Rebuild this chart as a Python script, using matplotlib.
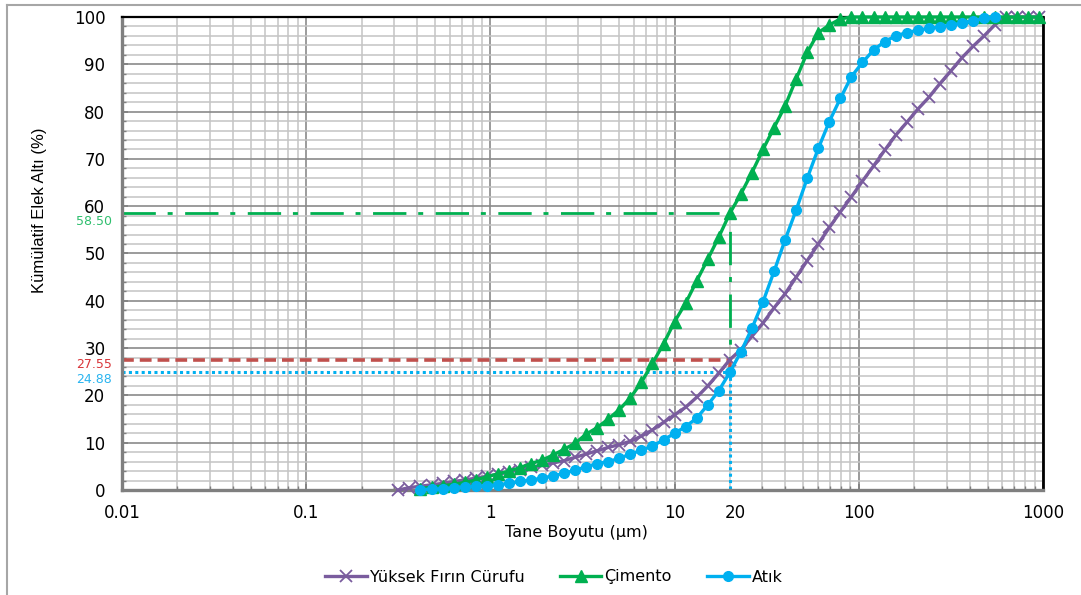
import numpy as np
import matplotlib
matplotlib.use("Agg")
import matplotlib.pyplot as plt
from matplotlib.ticker import FixedLocator, MultipleLocator, NullFormatter
from matplotlib.lines import Line2D

plt.rcParams['font.family'] = ['DejaVu Sans']
plt.rcParams['lines.scale_dashes'] = False

# particle size bins (um)
sizes = [0.316, 0.363, 0.417, 0.479, 0.550, 0.631, 0.724, 0.832, 0.955, 1.096,
         1.259, 1.445, 1.660, 1.905, 2.188, 2.512, 2.884, 3.311, 3.802, 4.365,
         5.012, 5.754, 6.607, 7.586, 8.710, 10.00, 11.48, 13.18, 15.14, 17.38,
         19.95, 22.91, 26.30, 30.20, 34.67, 39.81, 45.71, 52.48, 60.26, 69.18,
         79.43, 91.20, 104.7, 120.2, 138.0, 158.5, 182.0, 208.9, 239.9, 275.4,
         316.2, 363.1, 416.9, 478.6, 549.5, 631.0, 724.4, 831.8, 955.0]

# Yuksek Firin Curufu (from first bin)
curuf = [0.0, 0.5, 0.8, 1.1, 1.4, 1.8, 2.1, 2.5, 2.9, 3.3,
         3.8, 4.3, 4.8, 5.2, 5.7, 6.2, 6.9, 7.6, 8.3, 9.0,
         9.6, 10.3, 11.4, 12.7, 14.3, 15.9, 17.5, 19.6, 22.0, 24.7,
         27.55, 29.7, 32.5, 35.3, 38.5, 41.5, 45.0, 48.5, 52.0, 55.5,
         58.8, 62.0, 65.3, 68.5, 71.8, 75.0, 77.7, 80.5, 83.0, 85.9,
         88.6, 91.4, 93.8, 96.0, 98.4, 100, 100, 100, 100]

# Cimento (from third bin)
cimento = [0.3, 0.6, 0.9, 1.2, 1.6, 2.1, 2.8, 3.4,
           4.0, 4.7, 5.6, 6.3, 7.4, 8.6, 9.9, 11.8, 13.2, 15.0,
           17.0, 19.5, 22.8, 26.8, 30.9, 35.6, 39.5, 44.2, 48.8, 53.5,
           58.5, 62.6, 67.1, 72.0, 76.6, 81.2, 86.9, 92.5, 96.7, 98.3,
           99.6, 100, 100, 100, 100, 100, 100, 100, 100, 100,
           100, 100, 100, 100, 100, 100, 100, 100, 100]

# Atik (from third bin up to 549.5 um)
atik = [0.1, 0.15, 0.3, 0.45, 0.6, 0.75, 0.9, 1.1,
        1.4, 1.8, 2.1, 2.5, 3.0, 3.5, 4.2, 4.9, 5.6, 6.0,
        6.7, 7.6, 8.4, 9.3, 10.6, 12.0, 13.4, 15.2, 18.0, 21.0,
        24.88, 29.2, 34.2, 39.8, 46.2, 52.9, 59.2, 65.9, 72.2, 77.9,
        82.8, 87.4, 90.4, 93.0, 94.8, 96.0, 96.7, 97.2, 97.6, 97.9,
        98.3, 98.7, 99.2, 99.7, 100]

d_ref = 20
ref_vals = [58.50, 27.55, 24.88]
ref_labels = ['58.50', '27.55', '24.88']

purple = '#7a5c9e'
green = '#00b050'
blue = '#00b0f0'
red = '#c0504d'

fig = plt.figure(figsize=(10.81, 5.95), dpi=100)
ax = fig.add_axes([122/1081, 1-490/595, (1043-122)/1081, (490-17)/595])

ax.set_xscale('log')
ax.set_xlim(0.01, 1000)
ax.set_ylim(0, 100)

ax.xaxis.set_major_locator(FixedLocator([0.01, 0.1, 1, 10, 100, 1000]))
ax.set_xticklabels(['0.01', '0.1', '1', '10', '100', '1000'])
minor_x = [m * 10.0**e for e in range(-2, 3) for m in range(2, 10)]
ax.xaxis.set_minor_locator(FixedLocator(minor_x))
ax.xaxis.set_minor_formatter(NullFormatter())
ax.yaxis.set_major_locator(MultipleLocator(10))
ax.yaxis.set_minor_locator(MultipleLocator(2))

ax.grid(which='major', color='#8a8a8a', lw=1.2, zorder=0)
ax.grid(which='minor', color='#c4c4c4', lw=1.1, zorder=0)
ax.set_axisbelow(True)

ax.tick_params(which='both', direction='in', color='#7f7f7f')
ax.tick_params(which='major', length=4, width=1.2)
ax.tick_params(which='minor', length=3, width=1.0)
ax.tick_params(axis='x', labelsize=12, pad=10)
ax.tick_params(axis='y', labelsize=12, pad=12)

for side in ['left', 'bottom']:
    ax.spines[side].set_color('#7f7f7f')
    ax.spines[side].set_linewidth(2.4)
ax.spines['top'].set_color('black')
ax.spines['top'].set_linewidth(1.6)
ax.spines['right'].set_color('black')
ax.spines['right'].set_linewidth(2.0)

# reference lines at 20 um
ax.plot([0.01, d_ref, d_ref], [ref_vals[0], ref_vals[0], ref_vals[1]], color=green,
        lw=2.0, ls=(0, (24, 8.5, 3.6, 9)), zorder=2)
ax.plot([0.01, d_ref, d_ref], [ref_vals[1], ref_vals[1], ref_vals[2]], color=red,
        lw=2.6, ls=(0, (8.5, 4.3)), zorder=2)
ax.plot([0.01, d_ref, d_ref], [ref_vals[2], ref_vals[2], 0], color=blue,
        lw=2.2, ls=(0, (2.2, 2.4)), zorder=2)

# curves
ax.plot(sizes, curuf, color=purple, lw=2.4, marker='x', ms=8, mew=1.3,
        label='Yüksek Fırın Cürufu', clip_on=False, zorder=3)
ax.plot(sizes[2:], cimento, color=green, lw=2.4, marker='^', ms=9,
        label='Çimento', clip_on=False, zorder=4)
ax.plot(sizes[2:2+len(atik)], atik, color=blue, lw=2.4, marker='o', ms=7,
        label='Atık', clip_on=False, zorder=5)

# extra labels
ax.annotate('20', xy=(d_ref, 0), xycoords=('data', 'axes fraction'),
            xytext=(4, -10), textcoords='offset points', ha='center', va='top',
            fontsize=12)
label_cols = ['#2fbf6e', '#d9363a', '#29b4f0']
offsets = [-6, -3.5, -5]
for v, t, c, o in zip(ref_vals, ref_labels, label_cols, offsets):
    ax.annotate(t, xy=(0, v), xycoords=('axes fraction', 'data'),
                xytext=(-7, o), textcoords='offset points', ha='right', va='center',
                fontsize=9, color=c)

fig.text(576/1081, 1-533/595, 'Tane Boyutu (µm)', ha='center', va='center', fontsize=11.5)
fig.text(40/1081, 1-210/595, 'Kümülatif Elek Altı (%)', rotation=90, ha='center',
         va='center', fontsize=12, family=['Liberation Sans', 'DejaVu Sans'])

leg = fig.legend(loc='center', bbox_to_anchor=(554/1081, 1-577/595), ncol=3,
                 frameon=False, fontsize=11.5, handlelength=2.6, columnspacing=2.2,
                 handletextpad=0.2)

# chart border
fig.add_artist(Line2D([7/1081, 7/1081], [0, 1-5/595], color='#a6a6a6', lw=1.5,
                      transform=fig.transFigure))
fig.add_artist(Line2D([7/1081, 1], [1-5/595, 1-5/595], color='#a6a6a6', lw=1.5,
                      transform=fig.transFigure))

fig.savefig('out.png', dpi=100)
